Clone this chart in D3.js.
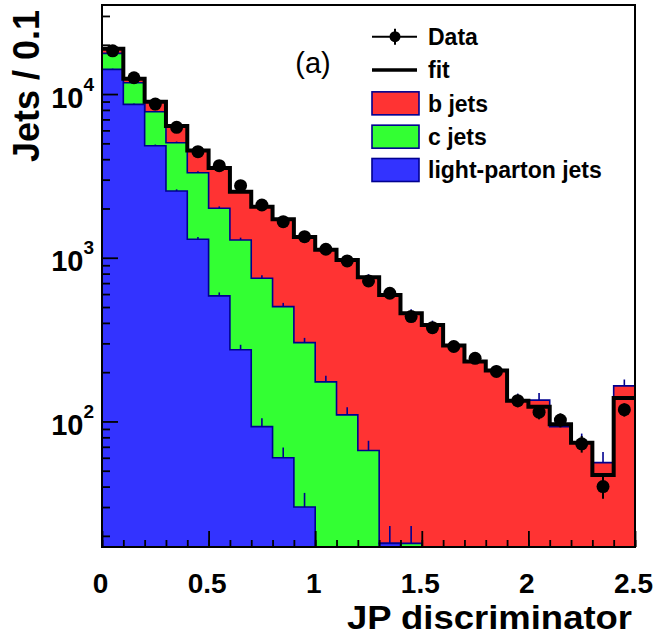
<!DOCTYPE html>
<html>
<head>
<meta charset="utf-8">
<script src="https://cdn.jsdelivr.net/npm/d3@7"></script>
<style>
  body { margin: 0; background: #fff; }
  text { font-family: "Liberation Sans", Arial, Helvetica, sans-serif; }
</style>
</head>
<body>
<div id="chart"></div>
<script>
// bins of 0.1 in JP discriminator
var binEdges = [0, 0.1, 0.2, 0.3, 0.4, 0.5, 0.6, 0.7, 0.8, 0.9, 1.0, 1.1, 1.2,
                1.3, 1.4, 1.5, 1.6, 1.7, 1.8, 1.9, 2.0, 2.1, 2.2, 2.3, 2.4, 2.5];

// stacked MC templates (per component)
var lightJets = [14150, 8650, 4835, 2557, 1297, 585, 274, 93, 60, 30, 0, 0, 0,
                 18, 0, 0, 0, 0, 0, 0, 0, 0, 0, 0, 0];
var cJets = [3570, 3070, 2963, 2486, 2010, 1420, 1010, 657, 443, 273, 174.5, 109.7, 66.4,
             0, 18, 0, 0, 0, 0, 0, 0, 0, 0, 0, 0];
var bJets = [1187, 678, 1176, 1334, 1213, 1529, 1248, 1301, 1215, 1037, 946, 860, 694,
             575, 440, 389, 291, 234, 204, 134, 135, 93, 74, 56, 165];

// MC stat. errors on the cumulative histograms
var lightErr = [143, 112, 83, 61, 43, 29, 20, 11.6, 9.3, 6.6, 0, 0, 0,
                5, 0, 0, 0, 0, 0, 0, 0, 0, 0, 0, 0];
var cErr = [160, 130, 106, 85, 69, 54, 43, 33, 27, 21, 16, 12.6, 9.8,
            0, 5, 0, 0, 0, 0, 0, 0, 0, 0, 0, 0];
var bErr = [165, 134, 114, 96, 81, 71, 60, 54, 50, 44, 40, 37, 33,
            29, 26, 24, 20, 18, 17, 14, 14, 11.6, 10.3, 9, 15.4];

var fitValues = [18900, 12400, 8974, 6377, 4520, 3534, 2532, 2051, 1718, 1340, 1121, 970, 760,
                 593, 458, 389, 291, 232, 204.5, 134, 123, 96, 74, 47, 139];

var dataValues = [18380, 12575, 8689, 6262, 4444, 3650, 2755, 2100, 1661, 1345, 1127, 956, 722,
                  607, 437, 374, 287, 243, 202, 134, 114, 102, 73, 40, 118];
var dataErrors = [136, 112, 93, 79, 67, 60, 52, 46, 41, 37, 34, 31, 27,
                  25, 21, 19, 17, 16, 14, 12, 11, 10, 8.5, 6.3, 11];

var xTicks = [0, 0.5, 1, 1.5, 2, 2.5];
var xTickLabels = ["0", "0.5", "1", "1.5", "2", "2.5"];
var yTicks = [100, 1000, 10000];
var yTickExp = ["2", "3", "4"];

var legendLabels = ["Data", "fit", "b jets", "c jets", "light-parton jets"];

var colors = {b: "#ff3333", c: "#33ff33", light: "#3333ff"};
var outline = "#000090";

var margin = {top: 5, right: 24, bottom: 89, left: 102},
    width = 659 - margin.left - margin.right,
    height = 636 - margin.top - margin.bottom;

var root = d3.select("#chart")
  .append("svg")
  .attr("width", 659)
  .attr("height", 636);

root.append("rect").attr("width", 659).attr("height", 636).attr("fill", "#fff");

var svg = root.append("g")
  .attr("transform", "translate(" + margin.left + "," + margin.top + ")");

var x = d3.scaleLinear().domain([0, 2.5]).range([0, width]);
var y = d3.scaleLog().domain([17.1, 35000]).range([height, 0]).clamp(true);

function yv(v) { return v > 0 ? y(v) : height; }

svg.append("clipPath").attr("id", "plotclip")
  .append("rect").attr("width", width).attr("height", height);

var plot = svg.append("g").attr("clip-path", "url(#plotclip)");

// table for the stack
var rows = bJets.map(function(d, i) {
  return {lo: binEdges[i], hi: binEdges[i + 1], light: lightJets[i], c: cJets[i], b: bJets[i]};
});

var series = d3.stack().keys(["light", "c", "b"])(rows);
var errs = {light: lightErr, c: cErr, b: bErr};

function stepPoints(s) {
  var pts = [];
  s.forEach(function(d) {
    pts.push([d.data.lo, d[1]]);
    pts.push([d.data.hi, d[1]]);
  });
  return pts;
}

var area = d3.area()
  .x(function(p) { return x(p[0]); })
  .y0(height)
  .y1(function(p) { return yv(p[1]); });

var step = d3.line()
  .x(function(p) { return x(p[0]); })
  .y(function(p) { return yv(p[1]); });

// draw from the top of the stack down, like ROOT does
series.slice().reverse().forEach(function(s) {
  var pts = stepPoints(s);
  plot.append("path")
    .attr("d", area(pts))
    .attr("fill", colors[s.key]);
  plot.append("path")
    .attr("d", step(pts))
    .attr("fill", "none")
    .attr("stroke", outline)
    .attr("stroke-width", 1.6);
  plot.selectAll(null)
    .data(s.filter(function(d, i) { return errs[s.key][i] > 0; }))
    .enter()
    .append("line")
    .attr("x1", function(d) { return x((d.data.lo + d.data.hi) / 2); })
    .attr("x2", function(d) { return x((d.data.lo + d.data.hi) / 2); })
    .attr("y1", function(d) { return yv(d[1]); })
    .attr("y2", function(d) { return yv(d[1] + errs[s.key][rows.indexOf(d.data)]); })
    .attr("stroke", outline)
    .attr("stroke-width", 1.6);
});

// fit
var fitPts = [];
fitValues.forEach(function(v, i) {
  fitPts.push([binEdges[i], v]);
  fitPts.push([binEdges[i + 1], v]);
});
plot.append("path")
  .attr("d", step(fitPts))
  .attr("fill", "none")
  .attr("stroke", "#000")
  .attr("stroke-width", 4)
  .attr("stroke-linejoin", "miter");

// data points
var dataPts = svg.append("g").selectAll("g")
  .data(dataValues)
  .enter()
  .append("g");

dataPts.append("line")
  .attr("x1", function(d, i) { return x((binEdges[i] + binEdges[i + 1]) / 2); })
  .attr("x2", function(d, i) { return x((binEdges[i] + binEdges[i + 1]) / 2); })
  .attr("y1", function(d, i) { return yv(d - dataErrors[i]); })
  .attr("y2", function(d, i) { return yv(d + dataErrors[i]); })
  .attr("stroke", "#000")
  .attr("stroke-width", 2);

dataPts.append("circle")
  .attr("cx", function(d, i) { return x((binEdges[i] + binEdges[i + 1]) / 2); })
  .attr("cy", function(d) { return yv(d); })
  .attr("r", 6.5)
  .attr("fill", "#000");

// axes: ticks point inward
var xMinor = svg.append("g")
  .attr("transform", "translate(0," + height + ")")
  .call(d3.axisBottom(x).tickValues(binEdges).tickSize(-7).tickFormat(""));

var xMajor = svg.append("g")
  .attr("transform", "translate(0," + height + ")")
  .call(d3.axisBottom(x).tickValues(xTicks).tickSize(-16)
    .tickFormat(function(d, i) { return xTickLabels[i]; }));

xMajor.selectAll("text")
  .attr("y", 46)
  .attr("dy", 0)
  .attr("x", -2)
  .style("font-size", "28px")
  .style("font-weight", "bold")
  .attr("fill", "#000");

var yMinorVals = y.ticks().filter(function(t) { return yTicks.indexOf(t) < 0; });

var yMinor = svg.append("g")
  .call(d3.axisLeft(y).tickValues(yMinorVals).tickSize(-8).tickFormat(""));

var yMajor = svg.append("g")
  .call(d3.axisLeft(y).tickValues(yTicks).tickSize(-16).tickFormat(""));

[xMinor, xMajor, yMinor, yMajor].forEach(function(a) {
  a.select(".domain").remove();
  a.selectAll(".tick line").attr("stroke", "#000").attr("stroke-width", 1.8);
});

var yLab = svg.append("g").selectAll("text")
  .data(yTicks)
  .enter()
  .append("text")
  .attr("x", -8)
  .attr("y", function(d) { return y(d) + 13.5; })
  .style("text-anchor", "end")
  .style("font-weight", "bold")
  .attr("fill", "#000");

yLab.append("tspan").style("font-size", "29px").text("10");
yLab.append("tspan")
  .attr("dy", -17)
  .style("font-size", "19px")
  .text(function(d, i) { return yTickExp[i]; });

// frame
svg.append("rect")
  .attr("width", width)
  .attr("height", height)
  .attr("fill", "none")
  .attr("stroke", "#000")
  .attr("stroke-width", 2);

// axis titles
root.append("text")
  .attr("x", 632)
  .attr("y", 629)
  .attr("textLength", 285)
  .attr("lengthAdjust", "spacingAndGlyphs")
  .style("text-anchor", "end")
  .style("font-size", "34px")
  .style("font-weight", "bold")
  .text("JP discriminator");

root.append("text")
  .attr("transform", "translate(39,10) rotate(-90)")
  .style("text-anchor", "end")
  .style("font-size", "36px")
  .style("font-weight", "bold")
  .text("Jets / 0.1");

root.append("text")
  .attr("x", 313)
  .attr("y", 73)
  .style("text-anchor", "middle")
  .style("font-size", "29px")
  .text("(a)");

// legend
var legY = d3.scaleLinear().domain([0, 4]).range([36.7, 170]);
var leg = root.append("g");

leg.selectAll("text")
  .data(legendLabels)
  .enter()
  .append("text")
  .attr("x", 428)
  .attr("y", function(d, i) { return legY(i) + 8.2; })
  .style("font-size", "23px")
  .style("font-weight", "bold")
  .text(function(d) { return d; });

leg.append("line")
  .attr("x1", 372).attr("x2", 417)
  .attr("y1", legY(0)).attr("y2", legY(0))
  .attr("stroke", "#000").attr("stroke-width", 2);
leg.append("line")
  .attr("x1", 395).attr("x2", 395)
  .attr("y1", legY(0) - 8).attr("y2", legY(0) + 8)
  .attr("stroke", "#000").attr("stroke-width", 2);
leg.append("circle")
  .attr("cx", 395).attr("cy", legY(0)).attr("r", 5.5).attr("fill", "#000");

leg.append("line")
  .attr("x1", 372).attr("x2", 417)
  .attr("y1", legY(1)).attr("y2", legY(1))
  .attr("stroke", "#000").attr("stroke-width", 3.6);

leg.selectAll("rect")
  .data(["b", "c", "light"])
  .enter()
  .append("rect")
  .attr("x", 372)
  .attr("y", function(d, i) { return legY(i + 2) - 11.5; })
  .attr("width", 47)
  .attr("height", 23)
  .attr("fill", function(d) { return colors[d]; })
  .attr("stroke", outline)
  .attr("stroke-width", 1.6);
</script>
</body>
</html>
